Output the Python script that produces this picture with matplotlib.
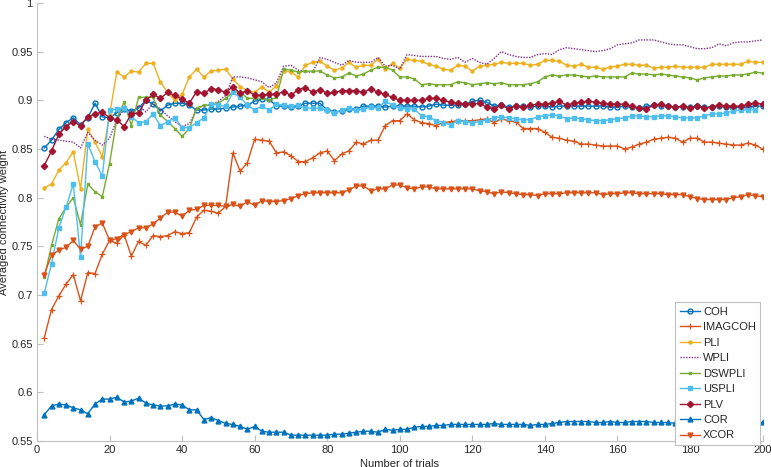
import numpy as np
import matplotlib
matplotlib.use("Agg")
import matplotlib.pyplot as plt

plt.rcParams['font.family'] = ['Liberation Sans', 'DejaVu Sans']

# trials 2,4,...,200
trials = list(range(2, 201, 2))

coh = [.851,.859,.870,.877,.882,.875,.882,.897,.883,.882,
       .887,.891,.889,.892,.900,.896,.889,.895,.897,.897,
       .895,.890,.890,.891,.891,.892,.893,.894,.895,.899,
       .901,.901,.894,.894,.893,.894,.897,.897,.897,.890,
       .888,.889,.891,.891,.894,.894,.894,.893,.894,.894,
       .894,.894,.893,.894,.896,.895,.895,.895,.896,.899,
       .900,.898,.894,.895,.893,.894,.894,.893,.894,.894,
       .893,.894,.894,.894,.894,.894,.894,.894,.893,.893,
       .894,.893,.892,.894,.895,.894,.894,.893,.893,.893,
       .894,.893,.893,.894,.893,.892,.893,.893,.894,.894]

imagcoh = [.656,.685,.699,.711,.721,.694,.723,.722,.742,.756,
           .753,.762,.740,.755,.751,.761,.760,.761,.765,.763,
           .764,.780,.787,.786,.784,.791,.846,.827,.836,.860,
           .859,.858,.846,.847,.843,.837,.837,.841,.846,.848,
           .838,.845,.848,.857,.855,.859,.859,.874,.879,.879,
           .886,.880,.877,.876,.874,.877,.878,.879,.879,.879,
           .880,.881,.877,.881,.879,.878,.871,.871,.871,.867,
           .862,.861,.859,.858,.855,.855,.854,.853,.853,.853,
           .850,.852,.855,.857,.860,.861,.862,.861,.857,.861,
           .861,.857,.857,.856,.855,.854,.854,.856,.854,.850]

pli = [.810,.814,.828,.836,.847,.809,.870,.857,.842,.885,
       .929,.924,.930,.929,.938,.938,.919,.908,.900,.906,
       .924,.932,.924,.930,.931,.932,.922,.914,.910,.908,
       .914,.908,.915,.930,.929,.924,.936,.939,.940,.935,
       .931,.933,.939,.934,.936,.936,.942,.932,.938,.933,
       .942,.941,.940,.937,.935,.932,.931,.936,.935,.930,
       .935,.936,.937,.939,.938,.938,.938,.936,.937,.941,
       .941,.940,.936,.935,.937,.934,.934,.932,.934,.935,
       .937,.937,.936,.936,.933,.934,.934,.935,.934,.934,
       .934,.934,.937,.937,.937,.937,.937,.940,.939,.939]

wpli = [.863,.860,.859,.858,.857,.851,.867,.859,.854,.861,
        .880,.891,.884,.895,.888,.897,.891,.884,.878,.873,
        .876,.891,.895,.895,.899,.905,.924,.924,.923,.921,
        .919,.913,.918,.935,.936,.931,.929,.929,.944,.942,
        .939,.936,.941,.939,.939,.939,.944,.935,.936,.932,
        .947,.946,.945,.945,.945,.943,.942,.944,.939,.943,
        .939,.937,.943,.950,.947,.945,.944,.944,.947,.948,
        .947,.952,.954,.953,.952,.951,.950,.951,.953,.957,
        .958,.959,.962,.962,.962,.960,.958,.957,.957,.955,
        .953,.953,.954,.958,.956,.959,.960,.960,.961,.962]

dswpli = [.718,.751,.778,.790,.800,.772,.814,.806,.801,.835,
          .881,.898,.874,.903,.903,.903,.885,.878,.871,.863,
          .871,.892,.895,.895,.897,.902,.908,.909,.902,.902,
          .902,.900,.903,.932,.931,.929,.930,.930,.930,.926,
          .923,.924,.928,.925,.927,.931,.934,.934,.931,.924,
          .924,.922,.916,.917,.916,.916,.916,.919,.918,.916,
          .917,.918,.917,.918,.916,.916,.916,.917,.919,.924,
          .926,.925,.926,.926,.925,.924,.925,.924,.924,.924,
          .924,.928,.927,.927,.926,.927,.926,.925,.924,.923,
          .921,.923,.924,.925,.925,.926,.926,.927,.929,.928]

uspli = [.702,.732,.769,.790,.814,.739,.855,.837,.822,.890,
         .891,.892,.883,.877,.878,.886,.874,.878,.882,.872,
         .872,.877,.882,.896,.895,.894,.908,.903,.895,.890,
         .894,.890,.896,.895,.894,.895,.892,.892,.892,.890,
         .887,.890,.892,.890,.891,.893,.892,.899,.895,.892,
         .891,.891,.884,.883,.879,.877,.875,.879,.878,.877,
         .878,.880,.882,.883,.882,.881,.880,.880,.883,.884,
         .885,.884,.881,.882,.881,.880,.879,.879,.880,.881,
         .882,.884,.884,.883,.883,.884,.884,.883,.882,.882,
         .882,.884,.886,.886,.887,.889,.890,.890,.890,np.nan]

plv = [.833,.848,.865,.873,.878,.874,.883,.886,.888,.882,
       .880,.873,.886,.887,.900,.906,.902,.908,.905,.901,
       .897,.909,.907,.912,.911,.908,.914,.907,.910,.905,
       .905,.906,.906,.909,.905,.911,.913,.908,.911,.907,
       .908,.910,.910,.910,.908,.912,.908,.906,.903,.900,
       .900,.900,.900,.902,.902,.900,.898,.897,.896,.896,
       .897,.893,.891,.895,.891,.894,.893,.895,.896,.896,
       .897,.899,.895,.897,.898,.899,.898,.897,.896,.896,
       .896,.894,.892,.891,.895,.896,.894,.893,.894,.892,
       .894,.892,.893,.895,.894,.894,.894,.896,.897,.896]

cor = [.577,.586,.588,.587,.584,.582,.578,.588,.593,.593,
       .595,.590,.591,.594,.589,.587,.586,.586,.588,.587,
       .582,.582,.572,.574,.571,.568,.567,.565,.562,.565,
       .560,.559,.559,.559,.556,.556,.556,.556,.556,.556,
       .557,.557,.558,.559,.560,.560,.559,.562,.561,.562,
       .562,.564,.565,.565,.566,.566,.567,.567,.567,.567,
       .567,.567,.568,.567,.567,.567,.567,.566,.567,.567,
       .568,.569,.570,.570,.570,.570,.569,.569,.570,.569,
       .569,.570,.570,.570,.569,.569,.569,.568,.568,.568,
       .568,.569,.568,.568,.568,.568,.568,.569,.569,.569]

xcor = [.721,.741,.746,.749,.756,.747,.750,.770,.774,.756,
        .758,.762,.765,.769,.769,.773,.779,.785,.785,.781,
        .787,.788,.792,.792,.792,.791,.793,.791,.796,.792,
        .797,.796,.796,.797,.799,.802,.804,.805,.805,.805,
        .805,.805,.808,.812,.812,.807,.809,.809,.813,.813,
        .810,.809,.811,.811,.809,.809,.809,.809,.809,.809,
        .807,.806,.804,.806,.805,.804,.803,.803,.802,.804,
        .804,.804,.805,.805,.805,.805,.805,.803,.804,.804,
        .805,.805,.804,.804,.804,.804,.803,.803,.803,.801,
        .799,.798,.798,.798,.798,.800,.801,.803,.802,.801]

yticks = [0.55, 0.6, 0.65, 0.7, 0.75, 0.8, 0.85, 0.9, 0.95, 1]
yticklabels = ["0.55", "0.6", "0.65", "0.7", "0.75", "0.8", "0.85", "0.9", "0.95", "1"]
xticks = list(range(0, 201, 20))

txt = '#262626'
axcol = '#c0c0c0'
fs = 8

fig = plt.figure(figsize=(7.71, 4.67), dpi=100)
ax = fig.add_axes([0.048, 0.0557, 0.941, 0.938])

lw = 1.0
ax.plot(trials, coh, color='#0072BD', lw=lw, marker='o', ms=3.5, mfc='none', mew=1.0, label='COH')
ax.plot(trials, imagcoh, color='#D95319', lw=lw, marker='+', ms=4, mew=0.9, label='IMAGCOH')
ax.plot(trials, pli, color='#EDB120', lw=lw, marker='o', ms=2.2, label='PLI')
ax.plot(trials, wpli, color='#7E2F8E', lw=lw, ls=(0, (1, 1)), label='WPLI')
ax.plot(trials, dswpli, color='#77AC30', lw=lw, marker='s', ms=1.8, label='DSWPLI')
ax.plot(trials, uspli, color='#4DBEEE', lw=lw, marker='s', ms=3, label='USPLI')
ax.plot(trials, plv, color='#A2142F', lw=lw, marker='D', ms=3.2, label='PLV')
ax.plot(trials, cor, color='#0072BD', lw=lw, marker='^', ms=3.5, label='COR')
ax.plot(trials, xcor, color='#D95319', lw=lw, marker='v', ms=3.5, label='XCOR')

ax.set_xlim(0, 200)
ax.set_ylim(0.55, 1)
ax.set_xticks(xticks)
ax.set_yticks(yticks)
ax.set_yticklabels(yticklabels)

for s in ['top', 'right']:
    ax.spines[s].set_visible(False)
for s in ['left', 'bottom']:
    ax.spines[s].set_color(axcol)
    ax.spines[s].set_linewidth(0.8)
ax.tick_params(direction='in', length=4, width=0.8, color=axcol, labelcolor=txt, labelsize=fs)
ax.tick_params(axis='x', pad=3)
ax.tick_params(axis='y', pad=3)

ax.set_xlabel('Number of trials', fontsize=fs, color=txt)
ax.xaxis.set_label_coords(0.5, -0.04)
ax.set_ylabel('Averaged connectivity weight', fontsize=fs, color=txt)
ax.yaxis.set_label_coords(-0.038, 0.5)

leg = ax.legend(loc='lower right', bbox_to_anchor=(0.997, -0.009), fontsize=fs,
                frameon=True, fancybox=False, framealpha=1, edgecolor=axcol,
                handlelength=1.8, handletextpad=0.3, labelspacing=0.49,
                borderpad=0.4, borderaxespad=0)
leg.get_frame().set_linewidth(0.8)
for t in leg.get_texts():
    t.set_color(txt)

fig.savefig('out.png', dpi=100)
